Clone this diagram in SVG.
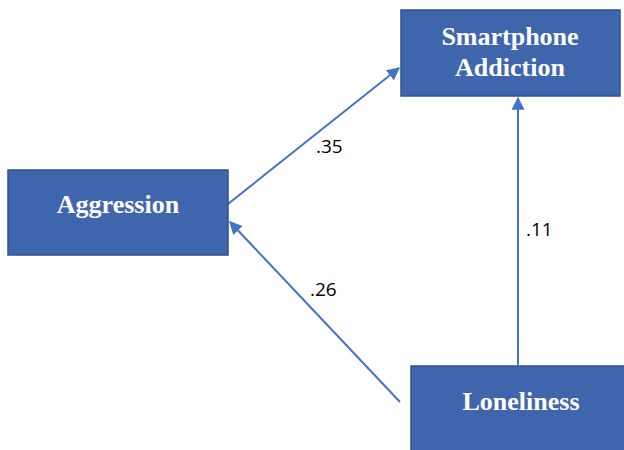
<svg xmlns="http://www.w3.org/2000/svg" width="624" height="450" viewBox="0 0 624 450">
<style>
.box{fill:#3F66AD;stroke:#2F528F;stroke-width:1.5}
.nt{font-family:"Liberation Serif",serif;font-weight:bold;font-size:26px;fill:#fff;text-anchor:middle}
.ln{stroke:#4472C4;stroke-width:2;fill:none;marker-end:url(#ah)}
.lb{font-family:"Open Sans","Liberation Sans",sans-serif;font-size:19px;fill:#000}
</style>
<defs>
<marker id="ah" viewBox="0 0 10 10" refX="9" refY="5" markerWidth="6.5" markerHeight="6.5" orient="auto" markerUnits="strokeWidth">
<path d="M0,0 L10,5 L0,10 z" fill="#4472C4"/>
</marker>
</defs>
<rect width="624" height="450" fill="#fff"/>
<g id="connectors">
<line class="ln" x1="228" y1="204" x2="399" y2="68"/>
<line class="ln" x1="400" y1="402" x2="230" y2="222"/>
<line class="ln" x1="518" y1="365" x2="518" y2="98"/>
<text class="lb" x="316" y="153">.35</text>
<text class="lb" x="310" y="296">.26</text>
<text class="lb" x="526" y="236">.11</text>
</g>
<g id="smartphone">
<rect class="box" x="401" y="10" width="219" height="86"/>
<text class="nt" x="510" y="45">Smartphone</text>
<text class="nt" x="510" y="76">Addiction</text>
</g>
<g id="aggression">
<rect class="box" x="8" y="170" width="220" height="85"/>
<text class="nt" x="118" y="213">Aggression</text>
</g>
<g id="loneliness">
<rect class="box" x="411" y="366" width="220" height="86"/>
<text class="nt" x="521" y="410">Loneliness</text>
</g>
</svg>
